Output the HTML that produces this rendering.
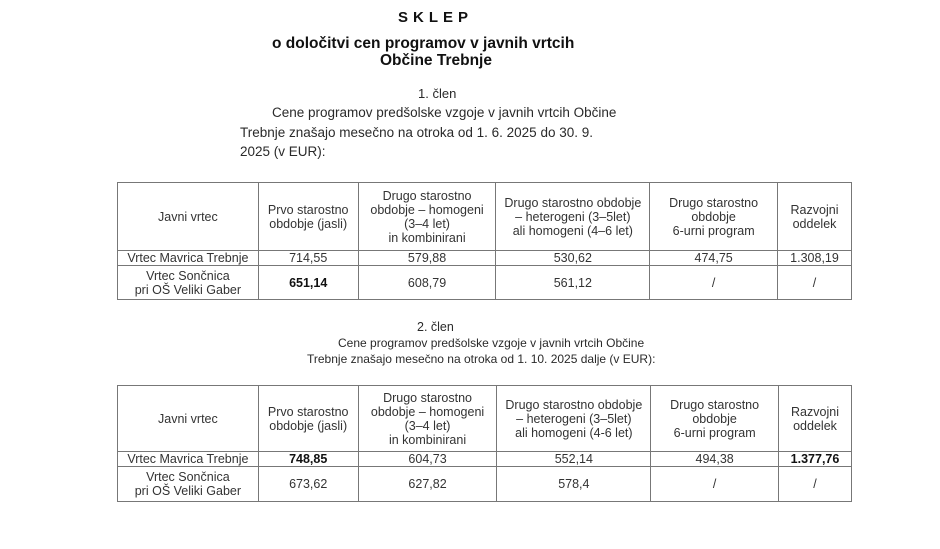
<!DOCTYPE html>
<html><head><meta charset="utf-8"><style>
body{margin:0;width:940px;height:549px;background:#fff;position:relative;overflow:hidden;font-family:"Liberation Sans",Arial,sans-serif;color:#2a2a2a}
.t{position:absolute;white-space:nowrap}
table{position:absolute;border-collapse:collapse;font-size:12.5px;color:#333}
td{border:1px solid #777;text-align:center;padding:0;line-height:14px}
b{color:#111}
</style></head><body>
<div class="t" style="left:398px;top:9px;font-size:15px;font-weight:bold;letter-spacing:5px;color:#111">SKLEP</div>
<div class="t" style="left:272px;top:35px;font-size:15.5px;font-weight:bold;color:#111">o določitvi cen programov v javnih vrtcih</div>
<div class="t" style="left:380px;top:52px;font-size:15.5px;font-weight:bold;color:#111">Občine Trebnje</div>
<div class="t" style="left:418px;top:86px;font-size:13px">1. člen</div>
<div class="t" style="left:272px;top:105px;font-size:13.5px">Cene programov predšolske vzgoje v javnih vrtcih Občine</div>
<div class="t" style="left:240px;top:125px;font-size:13.5px">Trebnje znašajo mesečno na otroka od 1. 6. 2025 do 30. 9.</div>
<div class="t" style="left:240px;top:144px;font-size:13.5px">2025 (v EUR):</div>
<table style="left:117px;top:182px;width:735px">
<colgroup><col style="width:141px"><col style="width:100px"><col style="width:138px"><col style="width:154px"><col style="width:128px"><col style="width:74px"></colgroup>
<tr style="height:68px"><td>Javni vrtec</td><td>Prvo starostno<br>obdobje (jasli)</td><td>Drugo starostno<br>obdobje – homogeni<br>(3–4 let)<br>in kombinirani</td><td>Drugo starostno obdobje<br>– heterogeni (3–5let)<br>ali homogeni (4–6 let)</td><td>Drugo starostno<br>obdobje<br>6-urni program</td><td>Razvojni<br>oddelek</td></tr>
<tr style="height:14px"><td>Vrtec Mavrica Trebnje</td><td>714,55</td><td>579,88</td><td>530,62</td><td>474,75</td><td>1.308,19</td></tr>
<tr style="height:34px"><td>Vrtec Sončnica<br>pri OŠ Veliki Gaber</td><td><b>651,14</b></td><td>608,79</td><td>561,12</td><td>/</td><td>/</td></tr>
</table>
<div class="t" style="left:417px;top:320px;font-size:12.5px">2. člen</div>
<div class="t" style="left:338px;top:336px;font-size:12px">Cene programov predšolske vzgoje v javnih vrtcih Občine</div>
<div class="t" style="left:307px;top:352px;font-size:12px">Trebnje znašajo mesečno na otroka od 1. 10. 2025 dalje (v EUR):</div>
<table style="left:117px;top:385px;width:735px">
<colgroup><col style="width:141px"><col style="width:100px"><col style="width:139px"><col style="width:154px"><col style="width:128px"><col style="width:73px"></colgroup>
<tr style="height:66px"><td>Javni vrtec</td><td>Prvo starostno<br>obdobje (jasli)</td><td>Drugo starostno<br>obdobje – homogeni<br>(3–4 let)<br>in kombinirani</td><td>Drugo starostno obdobje<br>– heterogeni (3–5let)<br>ali homogeni (4-6 let)</td><td>Drugo starostno<br>obdobje<br>6-urni program</td><td>Razvojni<br>oddelek</td></tr>
<tr style="height:14px"><td>Vrtec Mavrica Trebnje</td><td><b>748,85</b></td><td>604,73</td><td>552,14</td><td>494,38</td><td><b>1.377,76</b></td></tr>
<tr style="height:35px"><td>Vrtec Sončnica<br>pri OŠ Veliki Gaber</td><td>673,62</td><td>627,82</td><td>578,4</td><td>/</td><td>/</td></tr>
</table>
</body></html>
